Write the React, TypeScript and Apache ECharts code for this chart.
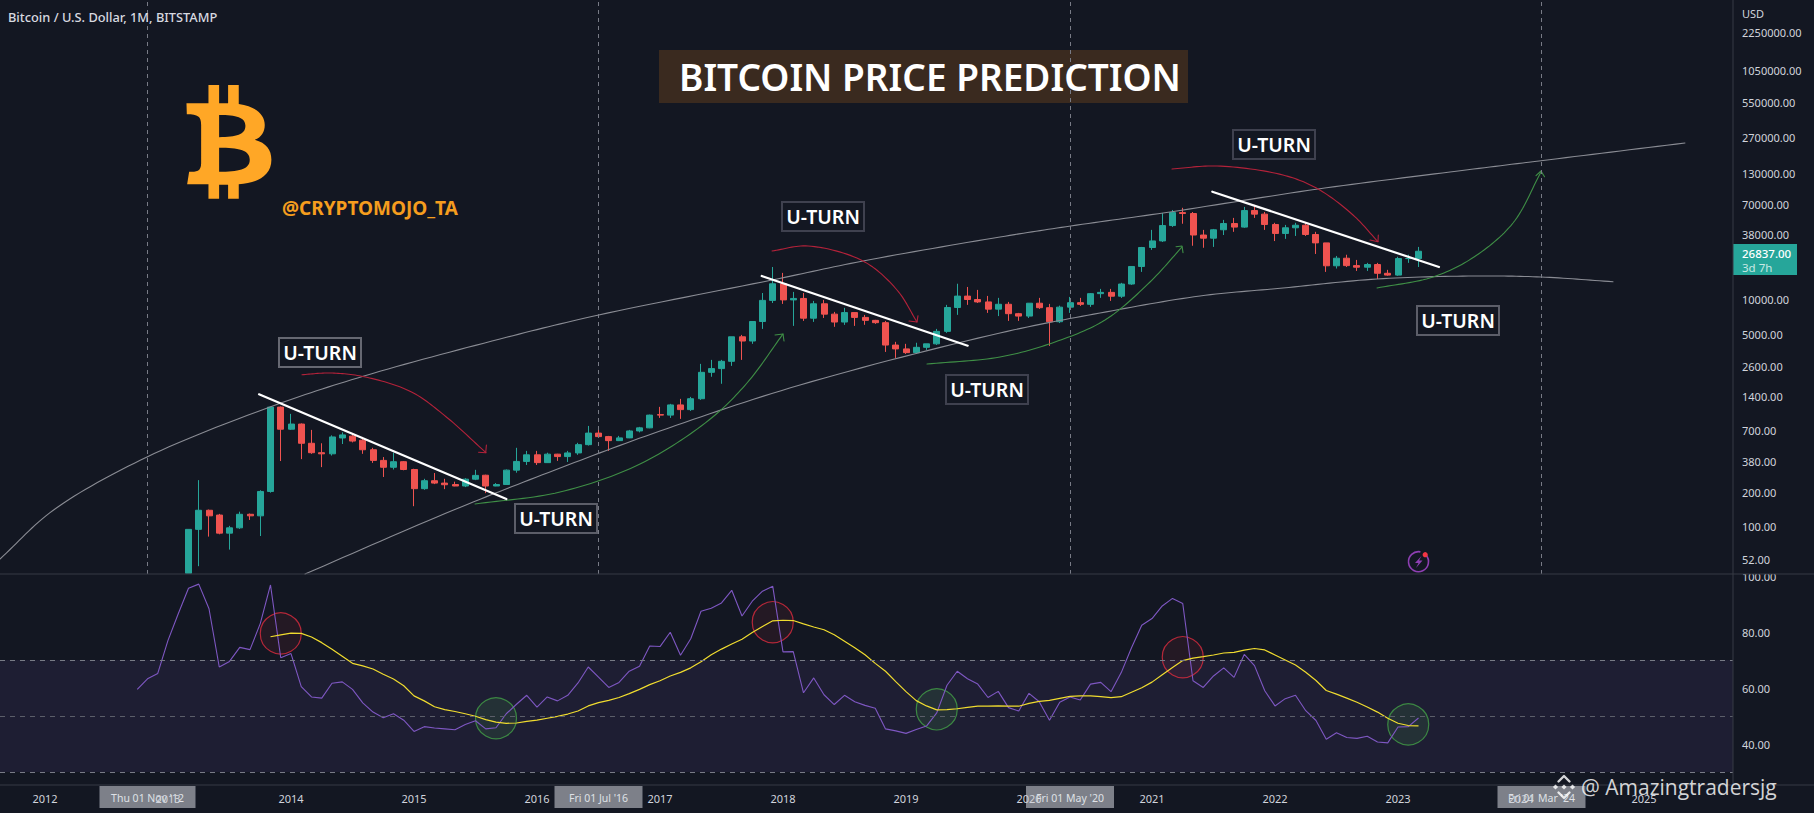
import React, { useEffect, useRef } from "react";
import * as echarts from "echarts";

// Month index: 0 = Jan 2013. Candles run from Mar 2013 (index 2) to Mar 2023.
// The first candle opens below the visible price pane.
const firstCandleIndex = 2;
const opens = [
  39,95,140,127,88,98,129,125,205,1135,
  725,805,545,450,440,607,630,580,478,385,335,375,
  320,217,255,243,236,229,263,285,229,236,316,377,
  431,368,437,416,448,530,670,624,575,608,700,745,
  975,965,1187,1079,1346,2300,2480,2875,4730,4340,6450,9900,
  13860,10000,10300,6900,9240,7490,6380,7730,7010,6600,6300,4000,
  3700,3430,3820,4100,5280,8570,10800,10080,9600,8290,9150,7560,
  7200,9350,8540,6420,8630,9450,9140,11350,11650,10780,13800,19700,
  28950,33100,45200,58800,57700,37300,35000,41500,47100,43800,61300,57000,
  46200,38500,43200,45500,37700,31800,19980,23300,20050,19420,20500,17160,
  16540,23130,23140,
];
const closes = [
  95,140,125,88,98,129,125,205,1135,725,
  805,545,450,440,620,646,570,478,385,335,375,320,
  217,255,243,235,229,263,284,229,236,316,377,431,
  368,437,416,448,530,670,624,575,608,700,745,965,
  965,1187,1079,1346,2300,2480,2875,4730,4340,6450,9900,13860,
  10000,10300,6900,9240,7490,6380,7730,7010,6600,6300,4000,3700,
  3430,3820,4100,5280,8570,10800,10080,9600,8290,9150,7560,7200,
  9350,8540,6420,8630,9450,9140,11350,11650,10780,13800,19700,28950,
  33100,45200,58800,57700,37300,35000,41500,47100,43800,61300,57000,46200,
  38500,43200,45500,37700,31800,19980,23300,20050,19420,20500,17160,16540,
  23130,23140,26837,
];
const highs = [
  95,258,142,130,102,136,131,210,1145,1150,
  990,815,715,545,640,680,655,620,497,412,450,380,
  325,265,298,265,250,268,318,288,243,320,497,467,
  467,450,440,467,550,775,730,633,633,715,760,975,
  1141,1213,1342,1397,2730,2960,2960,4730,4915,6500,11500,19500,
  17300,11760,11500,9800,10000,7840,8510,7680,7370,6670,6530,4270,
  4100,4190,4100,5550,9040,13880,13000,12250,10840,10420,9600,7680,
  9390,10420,9220,8900,10620,10420,11500,12500,12500,14130,19900,29300,
  41400,58200,62000,64800,59500,41400,42200,50700,52800,66000,68750,59500,
  47800,45800,47800,47800,39800,31800,24400,25000,22500,21200,21200,18400,
  24000,25000,29300,
];
const lows = [
  39,45,82,86,63,96,115,83,200,380,
  715,395,440,336,425,537,555,440,366,275,320,315,
  152,212,238,215,228,224,258,198,228,235,300,351,
  351,366,381,373,431,520,615,467,570,605,680,740,
  912,912,894,1051,1315,2102,1823,2620,2960,4100,5550,9390,
  9220,5900,6530,6400,6930,5790,6020,5900,6030,6150,3480,3080,
  3340,3340,3625,4010,5120,7380,9040,9390,7680,7200,6530,6530,
  6930,8330,3930,6250,7680,8840,8680,10420,9800,10400,13570,17650,
  27600,32400,44000,46900,30000,28800,29300,37300,39800,43200,52800,41400,
  33000,34500,36600,36600,25400,17650,18900,19500,18000,18000,15300,16300,
  16300,21200,19500,
];

// RSI from Oct 2012 (index -3) to Mar 2023
const rsiFirstIndex = -3;
const rsiValues = [
  59.5,63.3,65.2,77.0,86.5,95.6,97.1,88.3,67.5,69.5,74.5,73.7,83.0,96.8,
  70.8,72.3,60.5,56.8,56.4,61.7,62.2,59.5,54.7,51.4,49.4,50.8,
  48.5,44.5,46.2,45.7,45.4,45.1,47.0,48.3,45.4,45.8,50.8,54.2,57.4,
  53.2,56.8,55.4,
  57.4,61.8,67.5,63.9,60.2,62.0,66.0,67.8,75.0,
  74.8,79.9,71.7,77.6,87.4,88.5,90.4,94.9,85.7,91.0,94.6,96.3,
  72.9,73.0,58.3,63.6,57.6,54.1,57.4,55.1,53.8,52.8,45.4,44.7,
  43.8,45.2,46.4,51.1,61.0,66.0,63.3,61.4,56.6,
  58.8,53.0,51.8,
  58.1,55.1,48.5,54.9,56.8,55.7,61.4,62.0,58.7,65.5,74.4,82.4,
  84.8,89.3,92.0,90.2,62.6,60.2,64.3,67.2,63.8,72.0,68.0,59.0,
  53.6,56.2,57.4,51.9,48.4,41.7,44.0,42.3,42.0,42.8,40.7,40.4,
  46.1,46.2,49.3,
];
// RSI moving average from Nov 2013 (index 10) to Mar 2023
const maFirstIndex = 10;
const rsiMa = [
  78.3,79.0,
  79.6,79.5,78.2,76.2,73.8,71.3,68.8,67.9,66.8,64.9,63.2,60.8,
  57.2,55.4,53.3,52.3,51.6,50.8,49.9,48.7,47.8,47.4,47.5,48.1,
  48.5,49.2,49.9,
  50.7,51.8,53.6,54.8,55.6,56.6,58.0,59.5,61.2,
  62.6,64.3,65.6,67.2,69.4,71.9,73.9,75.7,77.4,79.8,82.0,84.0,
  84.2,84.1,82.9,81.8,80.8,79.0,76.7,74.4,71.9,68.8,66.0,62.3,
  58.7,55.5,53.6,52.2,52.3,52.6,53.1,53.5,53.5,
  53.6,53.5,53.5,
  54.5,55.2,55.6,56.3,57.0,57.2,57.2,56.9,56.6,56.9,58.5,60.1,
  62.1,64.7,67.3,69.8,70.7,71.2,71.8,72.5,72.7,73.5,74.1,73.6,
  71.8,70.0,68.2,65.6,62.7,59.1,57.8,56.4,54.9,53.2,51.4,49.2,
  47.4,46.6,46.5,
];

const redCircles = [[11, 79.5], [59, 83.5], [99, 71]];
const greenCircles = [[32, 49.2], [75, 52.4], [121, 47]];
const priceTicks = [2250000, 1050000, 550000, 270000, 130000, 70000, 38000, 10000, 5000, 2600, 1400, 700, 380, 200, 100, 52];
const rsiTicks = [100, 80, 60, 40];
const rsiLevels = [70, 50, 30];
const yearTicks = [-12, 0, 12, 24, 36, 48, 60, 72, 84, 96, 108, 120, 132, 144];
const dateMarkers = [
  { index: -2, label: "Thu 01 Nov '12" },
  { index: 42, label: "Fri 01 Jul '16" },
  { index: 88, label: "Fri 01 May '20" },
  { index: 134, label: "Fri 01 Mar '24" },
];

const upperChannel = [[0,559],[53.6,510],[147,457],[270,407],[364,376],[500,339],[598.7,315],[772,280],[863,261],[1000,237],[1070.7,226],[1171.7,211.7],[1318,189],[1450,172],[1541,160.7],[1685,143]];
const lowerChannel = [[305,574],[453.6,510],[555,470],[660,431],[800,385],[1000,333],[1100,313],[1200,296],[1283,288],[1377,279],[1474,276],[1541,277],[1613,281.7]];
const trendLines = [[[259,394.3],[506.4,499]],[[761.7,276],[967.7,345.7]],[[1212.3,191.7],[1439,267]]];
const greenArrows = [
  { path: [[475,504],[560,492],[640,464],[709,420],[747,383],[783,334]], head: [[775,335],[783,334],[784,341]] },
  { path: [[927,364],[1000,357],[1055,342],[1105,320],[1150,282],[1182,247]], head: [[1176,246.7],[1182,246],[1183,252.7]] },
  { path: [[1377,288],[1433,277],[1474,257],[1513,223],[1541,172]], head: [[1536,175.7],[1541,171],[1544.5,176.7]] },
];
const redArrows = [
  { path: [[302,374.7],[330,373],[364,376.7],[411,391.7],[446,416.7],[486,452.7]], head: [[478.6,452.3],[485.7,452.7],[486.4,445]] },
  { path: [[772,251],[808,246],[863,261],[897,290],[917,322]], head: [[909,321],[917,322],[918,315.7]] },
  { path: [[1172,169],[1217,166],[1283,175],[1318,189],[1353,215],[1378,241.7]], head: [[1370,240],[1378,241.7],[1378.3,235]] },
];
const uTurnBoxes = [
  { x: 279, y: 338, stroke: "#666872" },
  { x: 782, y: 202, stroke: "#3f414f" },
  { x: 515, y: 504, stroke: "#5c5e69" },
  { x: 946, y: 375, stroke: "#3f414f" },
  { x: 1233, y: 130, stroke: "#3f414f" },
  { x: 1417, y: 306, stroke: "#5c5e69" },
];

const BG = "#131722";
const FONT = '"Noto Sans"';
const AXIS_X = 1733;
const PX_PER_MONTH = 10.25;
const JAN_2013_X = 168;

const BTC_PATH =
  "M560 310 L626 310 L626 255 L658 255 L658 310 L685 310 L685 255 L717 255 L717 312 C770 320 795 345 795 375 C795 395 785 412 765 420 C800 430 815 450 815 480 C815 530 770 550 717 553 L717 597 L685 597 L685 555 L658 555 L658 597 L626 597 L626 553 L562 553 L568 516 C590 516 604 515 604 490 L604 375 C604 350 595 343 561 343 Z " +
  "M658 345 L658 412 C710 412 737 405 737 378 C737 352 710 345 658 345 Z " +
  "M658 444 L658 516 C715 516 750 510 750 480 C750 450 715 444 658 444 Z";

// Centripetal Catmull-Rom: gives hand-drawn curves an even bend through their knots.
function spline(pts: number[][]) {
  const out: number[][] = [pts[0]];
  const mix = (a: number[], b: number[], ta: number, tb: number, t: number) => {
    const d = tb - ta || 1;
    return [a[0] * ((tb - t) / d) + b[0] * ((t - ta) / d), a[1] * ((tb - t) / d) + b[1] * ((t - ta) / d)];
  };
  const knot = (t: number, a: number[], b: number[]) => t + Math.pow(Math.hypot(b[0] - a[0], b[1] - a[1]), 0.5);
  for (let i = 0; i < pts.length - 1; i++) {
    const p1 = pts[i];
    const p2 = pts[i + 1];
    const p0 = pts[i - 1] || [2 * p1[0] - p2[0], 2 * p1[1] - p2[1]];
    const p3 = pts[i + 2] || [2 * p2[0] - p1[0], 2 * p2[1] - p1[1]];
    const t0 = 0;
    const t1 = knot(t0, p0, p1);
    const t2 = knot(t1, p1, p2);
    const t3 = knot(t2, p2, p3);
    for (let s = 1; s <= 16; s++) {
      const t = t1 + ((t2 - t1) * s) / 16;
      const a1 = mix(p0, p1, t0, t1, t);
      const a2 = mix(p1, p2, t1, t2, t);
      const a3 = mix(p2, p3, t2, t3, t);
      const b1 = mix(a1, a2, t0, t2, t);
      const b2 = mix(a2, a3, t1, t3, t);
      out.push(mix(b1, b2, t1, t2, t));
    }
  }
  return out;
}

function line(points: number[][], stroke: string, lineWidth: number, z = 3) {
  return {
    type: "polyline",
    silent: true,
    z,
    shape: { points },
    style: { stroke, lineWidth, fill: "none", lineCap: "round", lineJoin: "round" },
  };
}

function text(t: string, x: number, y: number, font: string, fill: string, align = "left", z = 6) {
  return {
    type: "text",
    silent: true,
    z,
    x,
    y,
    style: { text: t, font, fill, align, verticalAlign: "middle" },
  };
}

function diamond(cx: number, cy: number, r: number, fill: string) {
  return {
    type: "polygon",
    silent: true,
    z: 12,
    shape: { points: [[cx, cy - r], [cx + r, cy], [cx, cy + r], [cx - r, cy]] },
    style: { fill },
  };
}

function buildGraphics() {
  const els: any[] = [];
  els.push(line(spline(upperChannel), "#8a8c94", 1.1));
  els.push(line(spline(lowerChannel), "#8a8c94", 1.1));
  trendLines.forEach((t) => els.push(line(t, "#ffffff", 2.2, 4)));
  greenArrows.forEach((a) => {
    els.push(line(spline(a.path), "#3f8f46", 1.1));
    els.push(line(a.head, "#3f8f46", 1.1));
  });
  redArrows.forEach((a) => {
    els.push(line(spline(a.path), "#b3223a", 1.1));
    els.push(line(a.head, "#b3223a", 1.1));
  });
  uTurnBoxes.forEach((b) => {
    els.push({
      type: "rect",
      silent: true,
      z: 5,
      shape: { x: b.x, y: b.y, width: 82, height: 29 },
      style: { fill: BG, stroke: b.stroke, lineWidth: 2 },
    });
    els.push(text("U-TURN", b.x + 41, b.y + 14.5, `600 19.5px ${FONT}`, "#ffffff", "center"));
  });

  // title
  els.push({ type: "rect", silent: true, z: 5, shape: { x: 659, y: 50, width: 529, height: 53 }, style: { fill: "#3a2a1f" } });
  els.push(text("BITCOIN PRICE PREDICTION", 930, 76, `600 37px ${FONT}`, "#ffffff", "center"));

  // header, handle, logo
  els.push(text("Bitcoin / U.S. Dollar, 1M, BITSTAMP", 8, 16.5, `500 12.8px ${FONT}`, "#d8dae0"));
  els.push(text("@CRYPTOMOJO_TA", 282, 208, `700 19px ${FONT}`, "#f59d1e"));
  els.push({ type: "btcLogo", silent: true, z: 5, x: 0, y: 0, scaleX: 1 / 3, scaleY: 1 / 3, style: { fill: "#ffa726" } });

  // lightning icon
  els.push({
    type: "arc",
    silent: true,
    z: 5,
    shape: { cx: 1418.5, cy: 561.7, r: 10, startAngle: -0.75, endAngle: 4.9, clockwise: true },
    style: { stroke: "#8e3fb3", lineWidth: 1.6, fill: "none" },
  });
  els.push({
    type: "polygon",
    silent: true,
    z: 5,
    shape: { points: [[1421.5,556],[1415,563],[1418.5,563],[1416,568],[1422.5,560.5],[1419,560.5]] },
    style: { fill: "#8e3fb3" },
  });
  els.push({ type: "circle", silent: true, z: 5, shape: { cx: 1425.2, cy: 554.7, r: 2.6 }, style: { fill: "#f23645" } });

  // pane frame
  els.push(line([[0, 574], [1814, 574]], "#363a45", 1, 7));
  els.push(line([[0, 785], [1814, 785]], "#363a45", 1, 7));
  els.push(line([[AXIS_X, 0], [AXIS_X, 785]], "#363a45", 1, 7));
  els.push({ type: "rect", silent: true, z: 6, shape: { x: AXIS_X + 1, y: 566, width: 80, height: 8 }, style: { fill: BG } });

  // price tag
  els.push(text("USD", 1742, 13.5, `11px ${FONT}`, "#d1d4dc"));
  els.push({ type: "rect", silent: true, z: 6, shape: { x: AXIS_X, y: 244, width: 64, height: 31 }, style: { fill: "#26a69a" } });
  els.push(text("26837.00", 1742, 253, `500 11.5px ${FONT}`, "#ffffff", "left", 8));
  els.push(text("3d 7h", 1742, 267, `11.5px ${FONT}`, "#c8e8e4", "left", 8));

  // date marker boxes on the time axis
  dateMarkers.forEach((m, i) => {
    const cx = JAN_2013_X + m.index * PX_PER_MONTH;
    const half = i === 0 ? 48 : 44;
    els.push({ type: "rect", silent: true, z: -1, shape: { x: cx - half, y: 786, width: half * 2, height: 22 }, style: { fill: "#7d8089" } });
    els.push(text(m.label, cx, 797.5, `10.5px ${FONT}`, "#dfe1e6", "center", -1));
  });

  // watermark
  const wmFill = "rgba(255,255,255,0.82)";
  els.push(diamond(1564, 787, 2.6, wmFill));
  els.push(diamond(1555.5, 787, 2.6, wmFill));
  els.push(diamond(1572.5, 787, 2.6, wmFill));
  els.push(line([[1558.5, 781.5], [1564, 776], [1569.5, 781.5]], wmFill, 2.4, 12));
  els.push(line([[1558.5, 792.5], [1564, 798], [1569.5, 792.5]], wmFill, 2.4, 12));
  els.push(text("@ Amazingtradersjg", 1581, 787, `21px "Open Sans"`, wmFill, "left", 12));
  return els;
}

export default function App() {
  const ref = useRef<HTMLDivElement | null>(null);

  useEffect(() => {
    if (!ref.current) return;
    document.body.style.margin = "0";
    document.body.style.background = BG;
    echarts.graphic.registerShape("btcLogo", echarts.graphic.extendPath(BTC_PATH, {}));
    const chart = echarts.init(ref.current, null, { renderer: "svg" });

    const candles = opens.map((o, i) => [firstCandleIndex + i, o, closes[i], lows[i], highs[i]]);
    const rsi = rsiValues.map((v, i) => [rsiFirstIndex + i, v]);
    const ma = rsiMa.map((v, i) => [maFirstIndex + i, v]);
    const xMin = -JAN_2013_X / PX_PER_MONTH;
    const xMax = (AXIS_X - JAN_2013_X) / PX_PER_MONTH;
    const labelBase = { color: "#d1d4dc", fontFamily: FONT, fontSize: 11 };

    chart.setOption({
      animation: false,
      backgroundColor: BG,
      graphic: { elements: buildGraphics() },
      grid: [
        { left: 0, top: 0, width: AXIS_X, height: 574 },
        { left: 0, top: 575, width: AXIS_X, height: 210 },
      ],
      xAxis: [
        { type: "value", gridIndex: 0, min: xMin, max: xMax, show: false, splitLine: { show: false } },
        {
          type: "value",
          gridIndex: 1,
          min: xMin,
          max: xMax,
          splitLine: { show: false },
          axisLine: { show: false },
          axisTick: { show: false },
          axisLabel: {
            ...labelBase,
            customValues: yearTicks,
            margin: 8,
            formatter: (v: number) => String(2013 + Math.round(v / 12)),
          },
        },
      ],
      yAxis: [
        {
          type: "log",
          gridIndex: 0,
          position: "right",
          min: 38.4,
          max: 4395000,
          splitLine: { show: false },
          axisLine: { show: false },
          axisTick: { show: false },
          axisLabel: {
            ...labelBase,
            customValues: priceTicks,
            margin: 9,
            align: "left",
            formatter: (v: number) => Number(v).toFixed(2),
          },
        },
        {
          type: "value",
          gridIndex: 1,
          position: "right",
          min: 25.36,
          max: 100.36,
          splitLine: { show: false },
          axisLine: { show: false },
          axisTick: { show: false },
          axisLabel: {
            ...labelBase,
            customValues: rsiTicks,
            margin: 9,
            align: "left",
            formatter: (v: number) => Number(v).toFixed(2),
          },
        },
      ],
      series: [
        {
          type: "candlestick",
          xAxisIndex: 0,
          yAxisIndex: 0,
          encode: { x: 0, y: [1, 2, 3, 4] },
          barWidth: 6.5,
          clip: true,
          data: candles,
          itemStyle: { color: "#26a69a", color0: "#ef5350", borderColor: "#26a69a", borderColor0: "#ef5350", borderWidth: 1 },
          markLine: {
            silent: true,
            symbol: "none",
            label: { show: false },
            lineStyle: { color: "#787b86", type: [4, 4], width: 1 },
            data: dateMarkers.map((m) => ({ xAxis: m.index })),
          },
        },
        {
          type: "line",
          name: "RSI",
          xAxisIndex: 1,
          yAxisIndex: 1,
          data: rsi,
          showSymbol: false,
          z: 3,
          lineStyle: { color: "#7e57c2", width: 1.1 },
          markArea: {
            silent: true,
            itemStyle: { color: "#1e1e33" },
            data: [[{ yAxis: rsiLevels[0] }, { yAxis: rsiLevels[2] }]],
          },
          markLine: {
            silent: true,
            symbol: "none",
            label: { show: false },
            data: rsiLevels.map((v) => ({
              yAxis: v,
              lineStyle: { color: v === 50 ? "#5b5e69" : "#787b86", type: [5, 5], width: 1 },
            })),
          },
        },
        {
          type: "scatter",
          xAxisIndex: 1,
          yAxisIndex: 1,
          data: redCircles,
          symbolSize: 41,
          z: 2,
          itemStyle: { color: "rgba(242,54,69,0.1)", borderColor: "#dc2c3f", borderWidth: 1.2 },
        },
        {
          type: "scatter",
          xAxisIndex: 1,
          yAxisIndex: 1,
          data: greenCircles,
          symbolSize: 41,
          z: 2,
          itemStyle: { color: "rgba(76,175,80,0.16)", borderColor: "#43a047", borderWidth: 1.2 },
        },
        {
          type: "line",
          name: "MA",
          xAxisIndex: 1,
          yAxisIndex: 1,
          data: ma,
          showSymbol: false,
          z: 4,
          lineStyle: { color: "#f0dc2f", width: 1.2 },
        },
      ],
    });
    return () => chart.dispose();
  }, []);

  return <div ref={ref} style={{ width: 1814, height: 813 }} />;
}
